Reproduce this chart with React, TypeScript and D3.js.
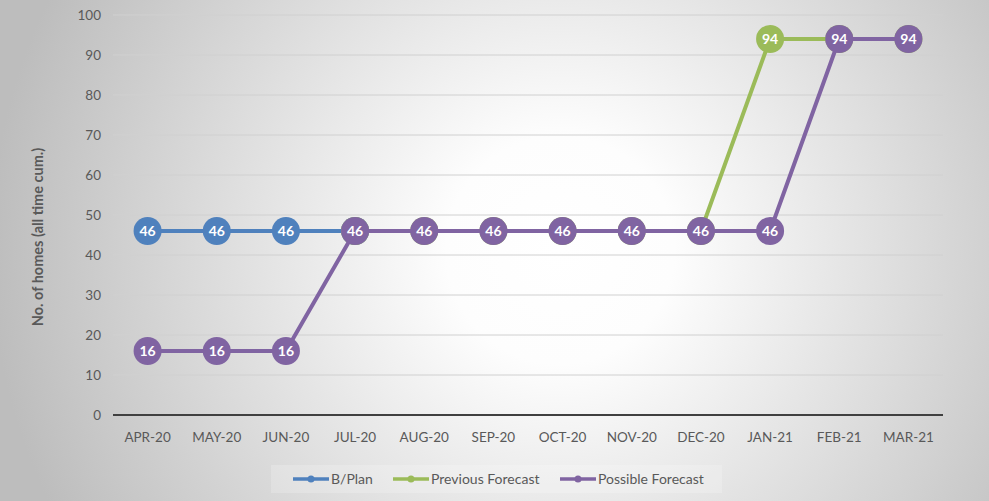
import React from "react";
import * as d3 from "d3";

const categories = ["APR-20","MAY-20","JUN-20","JUL-20","AUG-20","SEP-20","OCT-20","NOV-20","DEC-20","JAN-21","FEB-21","MAR-21"];
const bPlan: (number | null)[] = [46, 46, 46, 46, null, null, null, null, null, null, null, null];
const previousForecast: (number | null)[] = [null, null, null, 46, 46, 46, 46, 46, 46, 94, 94, 94];
const possibleForecast: (number | null)[] = [16, 16, 16, 46, 46, 46, 46, 46, 46, 46, 94, 94];
const yTicks = [0, 10, 20, 30, 40, 50, 60, 70, 80, 90, 100];

const seriesList = [
  { name: "B/Plan", values: bPlan, color: "#4F81BD" },
  { name: "Previous Forecast", values: previousForecast, color: "#9BBB59" },
  { name: "Possible Forecast", values: possibleForecast, color: "#8064A2" },
];

const W = 989, H = 501;
const left = 113, right = 943, top = 15, bottom = 415;
const font = "Lato, 'Open Sans', sans-serif";

export default function App() {
  const x = d3.scaleBand<string>().domain(categories).range([left, right]);
  const y = d3.scaleLinear().domain([0, 100]).range([bottom, top]);
  const cx = (c: string) => (x(c) as number) + x.bandwidth() / 2;

  const legendPos = [
    { lx: 293, tx: 331 },
    { lx: 393, tx: 431 },
    { lx: 560, tx: 598 },
  ];

  return (
    <svg width={W} height={H} style={{ position: "absolute", left: 0, top: 0 }}>
      <defs>
        <radialGradient id="bg" gradientUnits="userSpaceOnUse" cx={560} cy={250} r={570} fx={560} fy={250}>
          <stop offset="0%" stopColor="#ffffff" />
          <stop offset="20%" stopColor="#fdfdfd" />
          <stop offset="100%" stopColor="#bdbdbd" />
        </radialGradient>
      </defs>
      <rect x={0} y={0} width={W} height={H} fill="url(#bg)" />
      <rect x={271} y={465} width={451} height={28} fill="#ffffff" opacity={0.2} />

      {yTicks.map((t) => (
        <g key={t}>
          {t !== 0 && (
            <line x1={left} x2={right} y1={y(t)} y2={y(t)} stroke="#d0d0d0" strokeWidth={1} />
          )}
          <text x={101} y={y(t)} dy="0.35em" textAnchor="end" fontFamily={font} fontSize={13.5} fill="#595959">
            {t}
          </text>
        </g>
      ))}
      <line x1={left} x2={right} y1={bottom} y2={bottom} stroke="#404040" strokeWidth={2} />

      {categories.map((c) => (
        <text key={c} x={cx(c)} y={437} dy="0.35em" textAnchor="middle" fontFamily={font} fontSize={13.5} fill="#595959">
          {c}
        </text>
      ))}

      <text
        transform={`translate(38, ${(top + bottom) / 2 + 22}) rotate(-90)`}
        textAnchor="middle"
        dy="0.35em"
        fontFamily={font}
        fontSize={14.5}
        fontWeight="bold"
        fill="#595959"
      >
        No. of homes (all time cum.)
      </text>

      {seriesList.map((s) => {
        const pts = categories.map((c, i) => ({ c, v: s.values[i] }));
        const line = d3
          .line<{ c: string; v: number | null }>()
          .defined((d) => d.v !== null)
          .x((d) => cx(d.c))
          .y((d) => y(d.v as number));
        return (
          <g key={s.name}>
            <path d={line(pts) || ""} fill="none" stroke={s.color} strokeWidth={4} />
            {pts
              .filter((d) => d.v !== null)
              .map((d) => (
                <g key={d.c}>
                  <circle cx={cx(d.c)} cy={y(d.v as number)} r={14} fill={s.color} />
                  <text
                    x={cx(d.c)}
                    y={y(d.v as number)}
                    dy="0.35em"
                    textAnchor="middle"
                    fontFamily={font}
                    fontSize={14}
                    fontWeight="bold"
                    fill="#ffffff"
                  >
                    {d.v}
                  </text>
                </g>
              ))}
          </g>
        );
      })}

      {seriesList.map((s, i) => (
        <g key={s.name}>
          <line x1={legendPos[i].lx} x2={legendPos[i].lx + 36} y1={479} y2={479} stroke={s.color} strokeWidth={3.5} />
          <circle cx={legendPos[i].lx + 18} cy={479} r={3.5} fill={s.color} />
          <text x={legendPos[i].tx} y={479} dy="0.35em" fontFamily={font} fontSize={14} fill="#595959">
            {s.name}
          </text>
        </g>
      ))}
    </svg>
  );
}
